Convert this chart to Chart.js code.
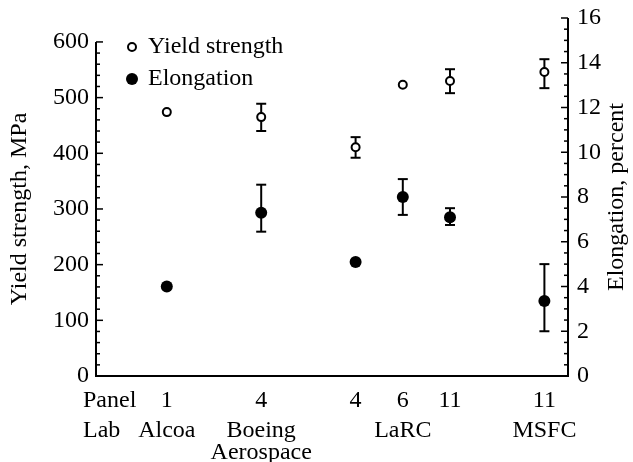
<!DOCTYPE html>
<html lang="en">
<head>
<meta charset="UTF-8">
<title>Yield strength and elongation</title>
<script src="https://cdn.jsdelivr.net/npm/chart.js"></script>
<style>
  body { margin: 0; background: #fff; }
  #box { width: 633px; height: 462px; }
</style>
</head>
<body>
<div id="box"><canvas id="grafico"></canvas></div>
<script>
// bottom axis: panel numbers and labs
const panels = ['1', '4', '4', '6', '11', '11'];
const panelPos = [1.5, 3.5, 5.5, 6.5, 7.5, 9.5];
const labs = ['Alcoa', ['Boeing', 'Aerospace'], 'LaRC', 'MSFC'];
const labPos = [1.5, 3.5, 6.5, 9.5];

// yield strength, MPa (open circles)
const yieldVals = [474, 465, 411, 523, 530, 546];
const yieldLo = [null, 440, 392, null, 508, 517];
const yieldHi = [null, 489, 429, null, 551, 569];

// elongation, percent (filled circles)
const elongVals = [4.0, 7.3, 5.1, 8.0, 7.1, 3.35];
const elongLo = [null, 6.45, null, 7.2, 6.75, 2.0];
const elongHi = [null, 8.55, null, 8.8, 7.5, 5.0];

// axis ranges
const yieldTop = 600, yieldStep = 20, yieldMajor = 100;
const elongTop = 16, elongStep = 0.5, elongMajor = 2;

const serif = "'Liberation Serif', 'DejaVu Serif', serif";
const txt = 24;

function pontos(vals) {
  return vals.map((v, i) => ({ x: panelPos[i], y: v }));
}

function linha(ctx, x1, y1, x2, y2) {
  ctx.beginPath();
  ctx.moveTo(x1, y1);
  ctx.lineTo(x2, y2);
  ctx.stroke();
}

// error bars with caps, under the markers
const barrasErro = {
  id: 'barrasErro',
  beforeDatasetsDraw(chart) {
    const ctx = chart.ctx;
    const xs = chart.scales.x;
    ctx.save();
    ctx.strokeStyle = '#000';
    ctx.lineWidth = 2;
    chart.data.datasets.forEach(ds => {
      const ys = chart.scales[ds.yAxisID];
      ds.data.forEach((p, i) => {
        if (ds.errLo[i] == null) return;
        const px = xs.getPixelForValue(p.x);
        const lo = ys.getPixelForValue(ds.errLo[i]);
        const hi = ys.getPixelForValue(ds.errHi[i]);
        linha(ctx, px, lo, px, hi);
        linha(ctx, px - 5, lo, px + 5, lo);
        linha(ctx, px - 5, hi, px + 5, hi);
      });
    });
    ctx.restore();
  }
};

// axis lines, inward ticks, titles, row headers and legend
const eixos = {
  id: 'eixos',
  afterDraw(chart) {
    const ctx = chart.ctx;
    const { left, right, top, bottom } = chart.chartArea;
    const yl = chart.scales.y, yr = chart.scales.y2;
    ctx.save();
    ctx.strokeStyle = '#000';
    ctx.fillStyle = '#000';
    ctx.lineWidth = 2;
    ctx.beginPath();
    ctx.moveTo(left, yl.getPixelForValue(yieldTop));
    ctx.lineTo(left, bottom);
    ctx.lineTo(right, bottom);
    ctx.lineTo(right, yr.getPixelForValue(elongTop));
    ctx.stroke();

    ctx.lineWidth = 1.5;
    yl.ticks.forEach(t => {
      const p = yl.getPixelForValue(t.value);
      linha(ctx, left, p, left + (t.value % yieldMajor === 0 ? 7 : 4), p);
    });
    yr.ticks.forEach(t => {
      const p = yr.getPixelForValue(t.value);
      linha(ctx, right, p, right - (t.value % elongMajor === 0 ? 7 : 4), p);
    });

    ctx.font = txt + 'px ' + serif;
    ctx.textBaseline = 'middle';

    // axis titles, both reading bottom to top
    ctx.textAlign = 'center';
    ctx.save();
    ctx.translate(20, (yl.getPixelForValue(0) + yl.getPixelForValue(yieldTop)) / 2);
    ctx.rotate(-Math.PI / 2);
    ctx.fillText('Yield strength, MPa', 0, 0);
    ctx.restore();
    ctx.save();
    ctx.translate(617, (yr.getPixelForValue(0) + yr.getPixelForValue(elongTop)) / 2);
    ctx.rotate(-Math.PI / 2);
    ctx.fillText('Elongation, percent', 0, 0);
    ctx.restore();

    // row headers under the axis
    const xs = chart.scales.x, xl = chart.scales.xLab;
    ctx.textAlign = 'left';
    ctx.fillText('Panel', left - 13, xs.top + xs.options.ticks.padding + txt * 0.6);
    ctx.fillText('Lab', left - 13, xl.top + xl.options.ticks.padding + txt * 0.475);

    // legend
    const itens = chart.data.datasets;
    itens.forEach((ds, i) => {
      const cy = top + 29 + i * 32;
      ctx.beginPath();
      ctx.arc(left + 36, cy, ds.pointRadius, 0, Math.PI * 2);
      ctx.fillStyle = ds.backgroundColor;
      ctx.fill();
      ctx.lineWidth = ds.borderWidth;
      ctx.strokeStyle = '#000';
      if (ds.borderWidth) ctx.stroke();
      ctx.fillStyle = '#000';
      ctx.fillText(ds.label, left + 52, cy);
    });
    ctx.restore();
  }
};

const fonte = { family: serif, size: txt };

// fixed box sizes so the plot area lands where the figure has it
function larguraFixa(w) {
  return s => {
    s.width = w;
    s.paddingTop = 0;
    s.paddingBottom = 0;
  };
}

new Chart(document.getElementById('grafico'), {
  type: 'scatter',
  data: {
    datasets: [{
      label: 'Yield strength',
      data: pontos(yieldVals),
      errLo: yieldLo,
      errHi: yieldHi,
      yAxisID: 'y',
      pointRadius: 4,
      borderWidth: 2,
      borderColor: '#000',
      backgroundColor: '#fff'
    }, {
      label: 'Elongation',
      data: pontos(elongVals),
      errLo: elongLo,
      errHi: elongHi,
      yAxisID: 'y2',
      pointRadius: 6,
      borderWidth: 0,
      borderColor: '#000',
      backgroundColor: '#000'
    }]
  },
  options: {
    responsive: true,
    maintainAspectRatio: false,
    animation: false,
    layout: { padding: { top: 18 } },
    plugins: {
      legend: { display: false },
      tooltip: { enabled: false }
    },
    scales: {
      x: {
        type: 'linear',
        position: 'bottom',
        min: 0,
        max: 10,
        weight: 0,
        grid: { display: false, drawTicks: false },
        border: { display: false },
        afterBuildTicks: s => { s.ticks = panelPos.map(v => ({ value: v })); },
        afterFit: s => { s.height = 40; },
        ticks: {
          autoSkip: false,
          maxRotation: 0,
          padding: 10,
          color: '#000',
          font: fonte,
          callback: (v, i) => panels[i]
        }
      },
      xLab: {
        axis: 'x',
        type: 'linear',
        position: 'bottom',
        min: 0,
        max: 10,
        weight: 1,
        grid: { display: false, drawTicks: false },
        border: { display: false },
        afterBuildTicks: s => { s.ticks = labPos.map(v => ({ value: v })); },
        afterFit: s => { s.height = 46; },
        ticks: {
          autoSkip: false,
          maxRotation: 0,
          padding: 3,
          color: '#000',
          font: { family: serif, size: txt, lineHeight: 0.95 },
          callback: (v, i) => labs[i]
        }
      },
      y: {
        position: 'left',
        min: 0,
        max: 643,
        grid: { display: false, drawTicks: false },
        border: { display: false },
        afterBuildTicks: s => {
          s.ticks = [];
          for (let v = 0; v <= yieldTop; v += yieldStep) s.ticks.push({ value: v });
        },
        afterFit: larguraFixa(96),
        ticks: {
          autoSkip: false,
          padding: 7,
          color: '#000',
          font: fonte,
          callback: v => (v % yieldMajor === 0 ? v : '')
        }
      },
      y2: {
        position: 'right',
        min: 0,
        max: elongTop,
        grid: { display: false, drawTicks: false },
        border: { display: false },
        afterBuildTicks: s => {
          s.ticks = [];
          for (let v = 0; v <= elongTop; v += elongStep) s.ticks.push({ value: v });
        },
        afterFit: larguraFixa(65),
        ticks: {
          autoSkip: false,
          padding: 9,
          color: '#000',
          font: fonte,
          callback: v => (v % elongMajor === 0 ? v : '')
        }
      }
    }
  },
  plugins: [barrasErro, eixos]
});
</script>
</body>
</html>
